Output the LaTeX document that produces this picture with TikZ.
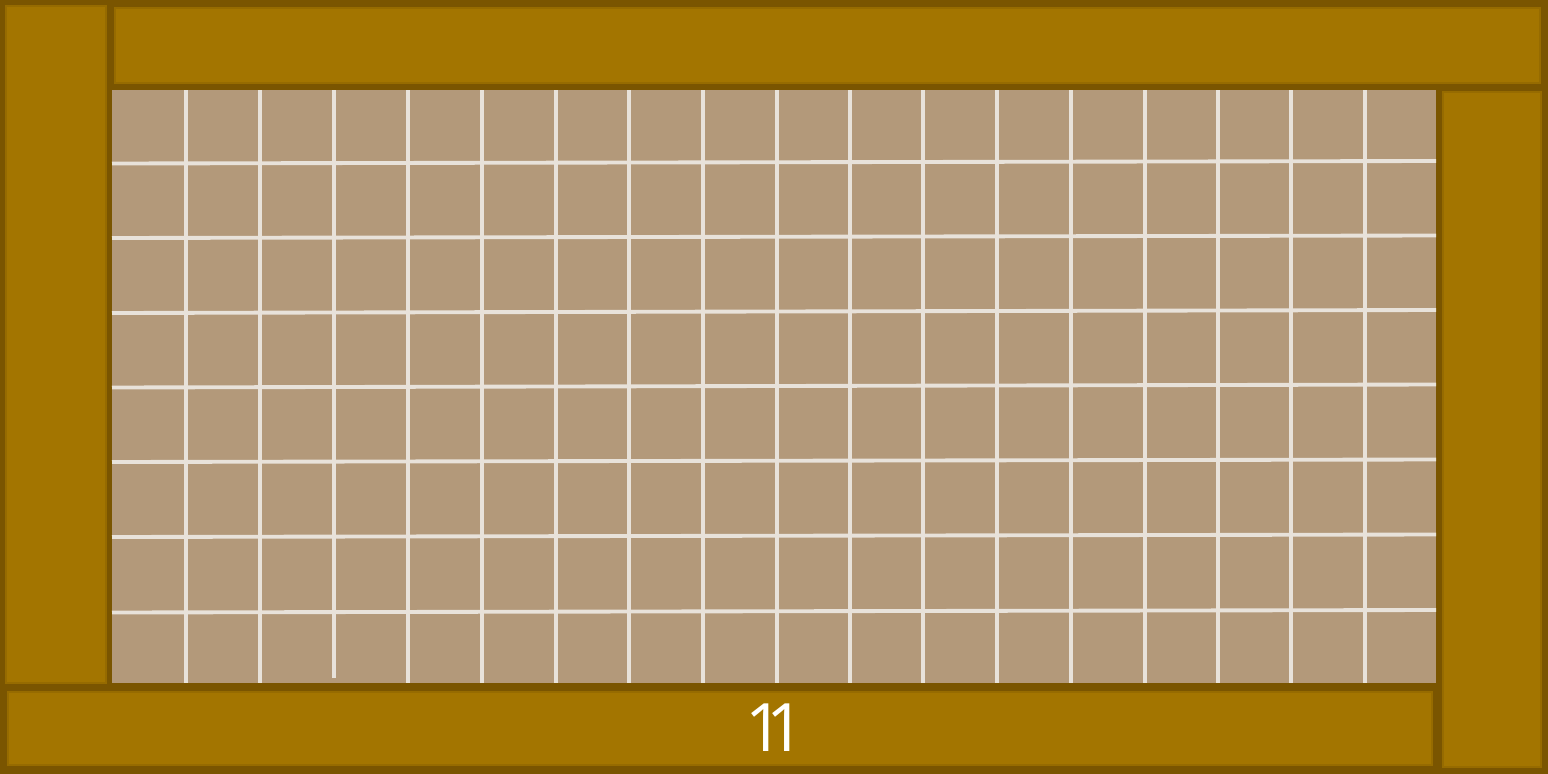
\documentclass[tikz,border=0pt]{standalone}
\usepackage{fontspec}
\newfontfamily\countfont{Open Sans}
\usetikzlibrary{positioning}
\definecolor{framedark}{RGB}{122,85,0}
\definecolor{boardfill}{RGB}{163,117,0}
\definecolor{boardedge}{RGB}{150,107,0}
\definecolor{meshfill}{RGB}{179,153,122}
\definecolor{meshwire}{RGB}{232,226,218}

\begin{document}
\begin{tikzpicture}[
  x=0.02cm, y=-0.02cm,
  board/.style={fill=boardfill, draw=boardedge, line width=0.6pt},
  wire/.style={meshwire, line width=2.2pt},
]
  % === FRAME ===
  \fill[framedark] (0,0) rectangle (1548,774);
  \useasboundingbox (0,0) rectangle (1548,774);

  % Boards
  \draw[board] (6,6) rectangle (106,683);
  \draw[board] (115,8) rectangle (1540,83);
  \draw[board] (1443,92) rectangle (1541,767);
  \draw[board] (8,692) rectangle (1432,765);

  % === MESH ===
  \fill[meshfill] (112,90) rectangle (1436,683);

  % Vertical wires (one is a bit short)
  \foreach \x/\e in {186/683, 260/683, 334/678, 408/683, 482/683, 556/683,
    629/683, 703/683, 777/683, 850/683, 923/683, 997/683, 1071/683,
    1145/683, 1218/683, 1291/683, 1365/683} {
    \draw[wire] (\x,90) -- (\x,\e);
  }

  % Horizontal wires (slightly tilted)
  \foreach \l/\r in {163.5/161, 238/235.5, 313/310, 387.5/384.5,
    462/459.5, 537/534.5, 612.5/610} {
    \draw[wire] (112,\l) -- (1436,\r);
  }

  % Label
  \node[font=\countfont\fontsize{38}{38}\selectfont, text=white, inner sep=0pt]
    (count) at (775,728) {1\kern-0.25em1};
\end{tikzpicture}
\end{document}
